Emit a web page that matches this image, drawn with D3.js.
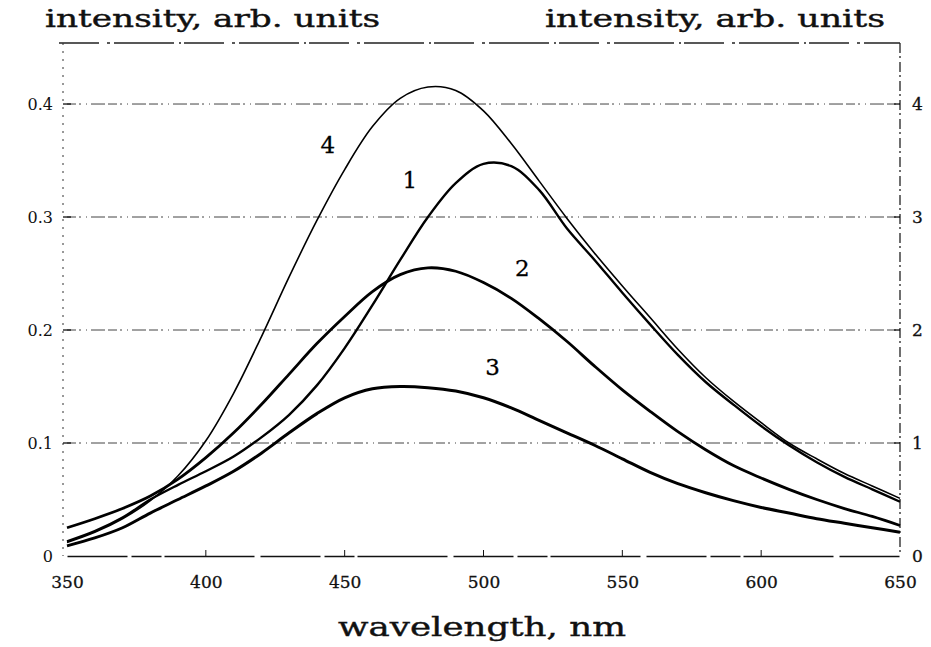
<!DOCTYPE html>
<html><head><meta charset="utf-8">
<script src="https://cdn.jsdelivr.net/npm/d3@7"></script>
<style>body{margin:0;background:#fff}</style>
</head><body><svg id="c" width="931" height="647"></svg>
<script>
// ---- data ----
const wavelengths = [350,360,370,380,390,400,410,420,430,440,450,460,470,480,490,500,510,520,530,540,550,560,570,580,590,600,610,620,630,640,650];
const curve1 = [0.013,0.022,0.034,0.050,0.063,0.075,0.088,0.105,0.125,0.151,0.184,0.222,0.262,0.300,0.330,0.347,0.345,0.324,0.290,0.262,0.233,0.205,0.178,0.154,0.134,0.115,0.098,0.083,0.070,0.059,0.048];
const curve2 = [0.025,0.033,0.042,0.053,0.068,0.087,0.109,0.134,0.161,0.188,0.212,0.234,0.249,0.255,0.252,0.242,0.228,0.210,0.190,0.168,0.147,0.128,0.110,0.094,0.080,0.069,0.059,0.050,0.042,0.035,0.027];
const curve3 = [0.009,0.016,0.025,0.038,0.050,0.062,0.075,0.091,0.109,0.126,0.140,0.148,0.150,0.149,0.146,0.140,0.131,0.120,0.109,0.098,0.086,0.074,0.064,0.056,0.049,0.043,0.038,0.033,0.029,0.025,0.021];
const curve4 = [0.012,0.021,0.033,0.049,0.071,0.102,0.144,0.194,0.247,0.297,0.342,0.380,0.405,0.415,0.412,0.394,0.365,0.332,0.299,0.268,0.239,0.211,0.183,0.158,0.137,0.118,0.100,0.086,0.073,0.062,0.051];
const seriesNames = ["1","2","3","4"];
const labelAnchors = [[473.5,0.333],[514,0.255],[503.3,0.167],[443.9,0.364]]; // [wavelength, intensity]
const xTicks = [350,400,450,500,550,600,650];
const leftTicks = [0,0.1,0.2,0.3,0.4];
const leftTickLabels = ["0","0.1","0.2","0.3","0.4"];
const rightTicks = [0,1,2,3,4];
const titleText = "intensity, arb. units";
const xTitle = "wavelength, nm";

// ---- chart ----
const svg = d3.select("#c");
const W = 931, H = 647;
const m = {left:67, right:31, top:43, bottom:91};
const x = d3.scaleLinear().domain([350,650]).range([m.left, W-m.right]);
const y = d3.scaleLinear().domain([0,0.454]).range([H-m.bottom, m.top]);
const yR = d3.scaleLinear().domain([0,4.54]).range([H-m.bottom, m.top]);
const serif = "'DejaVu Serif', 'Liberation Serif', serif";

// gridlines
svg.append("g").selectAll("line").data(leftTicks.slice(1)).join("line")
  .attr("x1", x(350)).attr("x2", x(650))
  .attr("y1", d=>y(d)).attr("y2", d=>y(d))
  .attr("stroke","#444").attr("stroke-width",1)
  .attr("stroke-dasharray","9,3,2,5,1,4,14,3");

// frame
svg.append("line").attr("x1",x(350)-8).attr("x2",x(650)).attr("y1",m.top).attr("y2",m.top)
  .attr("stroke","#222").attr("stroke-width",1.5).attr("stroke-dasharray","40,8,3,4,60,5,2,3");
svg.append("line").attr("x1",x(350)-4).attr("x2",x(350)-4).attr("y1",m.top).attr("y2",y(0))
  .attr("stroke","#333").attr("stroke-width",1).attr("stroke-dasharray","2,6");
svg.append("line").attr("x1",x(650)).attr("x2",x(650)).attr("y1",m.top).attr("y2",y(0))
  .attr("stroke","#222").attr("stroke-width",1.3).attr("stroke-dasharray","10,3,2,4");

// bottom axis
const xAxis = d3.axisBottom(x).tickValues(xTicks).tickSize(0).tickPadding(20).tickFormat(d3.format("d"));
const gx = svg.append("g").attr("transform",`translate(0,${y(0)})`).call(xAxis);
gx.select(".domain").attr("stroke","#111").attr("stroke-width",1.6).attr("stroke-dasharray","60,4,30,3,90,6");
gx.selectAll("text").attr("font-family",serif).attr("font-size",17).attr("fill","#111")
  .attr("stroke","#111").attr("stroke-width",0.3);
svg.append("g").selectAll("line").data(xTicks.slice(1,-1)).join("line")
  .attr("x1",d=>x(d)).attr("x2",d=>x(d)).attr("y1",y(0)).attr("y2",y(0)-6)
  .attr("stroke","#111").attr("stroke-width",1);

// left axis
const yAxisL = d3.axisLeft(y).tickValues(leftTicks).tickSize(0).tickPadding(14)
  .tickFormat((d,i)=>leftTickLabels[i]);
const gl = svg.append("g").attr("transform",`translate(${x(350)},0)`).call(yAxisL);
gl.select(".domain").remove();
gl.selectAll("text").attr("font-family",serif).attr("font-size",16).attr("fill","#111");
svg.append("g").selectAll("line").data(leftTicks.slice(1)).join("line")
  .attr("x1",x(350)-4).attr("x2",x(350)+4).attr("y1",d=>y(d)).attr("y2",d=>y(d))
  .attr("stroke","#111").attr("stroke-width",1.3);

// right axis
const yAxisR = d3.axisRight(yR).tickValues(rightTicks).tickSize(0).tickPadding(12).tickFormat(d3.format("d"));
const gr = svg.append("g").attr("transform",`translate(${x(650)},0)`).call(yAxisR);
gr.select(".domain").remove();
gr.selectAll("text").attr("font-family",serif).attr("font-size",17).attr("fill","#111")
  .attr("stroke","#111").attr("stroke-width",0.3);
svg.append("g").selectAll("line").data(rightTicks.slice(1)).join("line")
  .attr("x1",x(650)-6).attr("x2",x(650)).attr("y1",d=>yR(d)).attr("y2",d=>yR(d))
  .attr("stroke","#111").attr("stroke-width",1.3);

// curves
const allSeries = [curve1, curve2, curve3, curve4];
const widths = [2.4, 2.8, 3.0, 1.6];
const line = d3.line().x(d=>x(d[0])).y(d=>y(d[1])).curve(d3.curveCatmullRom.alpha(0.5));
svg.append("g").selectAll("path").data(allSeries).join("path")
  .attr("d", s=>line(wavelengths.map((w,i)=>[w,s[i]])))
  .attr("fill","none").attr("stroke","#000")
  .attr("stroke-width",(d,i)=>widths[i]).attr("stroke-linejoin","round");

// curve labels
svg.append("g").selectAll("text").data(seriesNames).join("text")
  .attr("x",(d,i)=>x(labelAnchors[i][0])).attr("y",(d,i)=>y(labelAnchors[i][1]))
  .attr("dy","0.35em").attr("text-anchor","middle")
  .attr("font-family",serif).attr("font-size",23).attr("fill","#000")
  .attr("stroke","#000").attr("stroke-width",0.3)
  .text(d=>d);

// titles
svg.append("text").attr("x",45).attr("y",27).attr("font-family",serif).attr("font-size",24)
  .attr("textLength",335).attr("lengthAdjust","spacingAndGlyphs")
  .attr("stroke","#111").attr("stroke-width",0.4)
  .attr("fill","#111").text(titleText);
svg.append("text").attr("x",545).attr("y",27).attr("font-family",serif).attr("font-size",24)
  .attr("textLength",340).attr("lengthAdjust","spacingAndGlyphs")
  .attr("stroke","#111").attr("stroke-width",0.4)
  .attr("fill","#111").text(titleText);
svg.append("text").attr("x",338).attr("y",636).attr("font-family",serif)
  .attr("font-size",26).attr("textLength",288).attr("lengthAdjust","spacingAndGlyphs")
  .attr("stroke","#111").attr("stroke-width",0.4)
  .attr("fill","#111").text(xTitle);
</script></body></html>
